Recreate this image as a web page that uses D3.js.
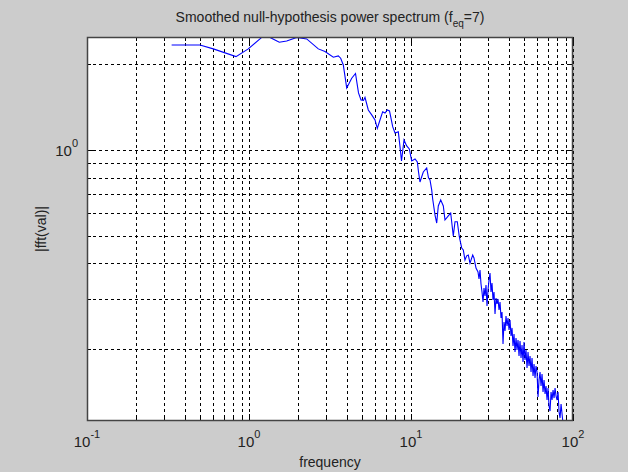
<!DOCTYPE html>
<html>
<head>
<meta charset="utf-8">
<script src="https://cdn.jsdelivr.net/npm/d3@7"></script>
<style>
  body { margin: 0; background: #cccccc; }
  text { font-family: Arial, "Liberation Sans", sans-serif; fill: #222; }
</style>
</head>
<body>
<svg id="chart" width="628" height="472"></svg>
<script>
// spectrum
var freq = [0.333,0.498,0.602,0.831,0.990,1.198,1.348,1.538,1.709,1.970,2.271,2.678,2.945,3.315,3.558,3.681,3.820,
  4.010,4.305,4.544,4.742,4.914,5.092,5.200,5.450,5.720,5.995,6.194,6.435,6.687,6.911,7.141,7.368,7.709,7.966,8.349,
  8.553,8.738,9.054,9.408,9.761,10.10,10.59,10.94,11.13,11.36,11.91,12.50,12.82,13.10,13.42,13.61,14.07,14.41,14.74,
  15.25,15.83,16.21,16.99,17.58,18.24,18.69,19.31,19.87,20.56,21.03,21.54,22.07,22.58,23.13,24.04,24.48,25.19,
  25.92,26.29,26.67,27.05,27.44,27.83,28.23,28.63,29.04,29.46,29.88,30.31,30.74,31.18,31.63,32.08,32.54,33.01,33.48,
  33.96,34.45,34.94,35.44,35.95,36.46,36.98,37.51,38.05,38.59,39.15,39.71,40.28,40.85,41.44,42.03,42.63,43.24,43.86,
  44.49,45.13,45.77,46.43,47.09,47.77,48.45,49.15,49.85,50.56,51.29,52.02,52.77,53.52,54.29,55.07,55.86,56.66,57.47,
  58.29,59.13,59.98,60.84,61.71,62.59,63.49,64.40,65.32,66.26,67.21,68.17,69.15,70.14,71.14,72.16,73.20,74.25,75.31,
  76.39,77.48,78.59,79.72,80.86,82.02,83.19,84.39,85.60,86.82];
var power = [2.335,2.335,2.262,2.125,2.262,2.481,2.481,2.387,2.412,2.481,2.452,2.262,2.213,2.115,2.137,2.098,1.987,
  1.650,1.785,1.855,1.585,1.498,1.492,1.529,1.381,1.327,1.274,1.191,1.274,1.362,1.348,1.381,1.370,1.207,1.147,1.159,
  1.027,0.915,1.084,1.033,1.008,0.915,0.930,0.908,0.837,0.772,0.837,0.865,0.798,0.785,0.724,0.673,0.591,0.554,0.636,
  0.668,0.636,0.568,0.587,0.601,0.499,0.560,0.560,0.496,0.453,0.446,0.411,0.425,0.428,0.401,0.428,0.418,0.385,
  0.3732,0.3527,0.3793,0.3388,0.3176,0.2929,0.3280,0.3075,0.3360,0.2836,0.3227,0.3499,0.3702,0.3176,0.3415,0.2976,0.3176,0.2659,0.3025,
  0.2882,0.3001,0.2746,0.2929,0.2574,0.2702,0.2086,0.2492,0.2318,0.2616,0.2413,0.2574,0.2337,0.2533,0.2226,0.2375,0.2052,0.2262,0.1955,
  0.2190,0.1987,0.2154,0.1893,0.2137,0.1863,0.2069,0.1804,0.2120,0.1833,0.1987,0.1718,0.1955,0.1746,0.1893,0.1664,0.1863,0.1611,0.1775,
  0.1585,0.1746,0.1664,0.1359,0.1560,0.1664,0.1485,0.1637,0.1415,0.1560,0.1393,0.1485,0.1327,0.1462,0.1264,0.1214,0.1415,0.1327,0.1438,
  0.1348,0.1462,0.1370,0.1327,0.1415,0.1204,0.1147,0.1284,0.1185,0.1093];

var xMajor = [0.1, 1, 10, 100];
var xMajorExp = ['-1', '0', '1', '2'];
var yMajor = [1];
var yMajorExp = ['0'];
var xDomain = [0.1, 100];
var yDomain = [0.112, 2.49];

var plotL = 87, plotR = 573, plotT = 37, plotB = 421;

var svg = d3.select('#chart');

var x = d3.scaleLog().domain(xDomain).range([plotL, plotR]);
var y = d3.scaleLog().domain(yDomain).range([plotB, plotT]);

// axes background
svg.append('rect')
  .attr('x', plotL).attr('y', plotT)
  .attr('width', plotR - plotL).attr('height', plotB - plotT)
  .style('fill', '#fff');

var px = function(v) { return Math.round(x(v)) + 0.5; };
var py = function(v) { return Math.round(y(v)) + 0.5; };

// dotted grid
var grid = svg.append('g').style('stroke', '#000').style('stroke-width', 1).style('stroke-dasharray', '3,3');
grid.selectAll('.gx').data(x.ticks()).enter().append('line')
  .attr('x1', px).attr('x2', px).attr('y1', plotT).attr('y2', plotB);
grid.selectAll('.gy').data(y.ticks()).enter().append('line')
  .attr('y1', py).attr('y2', py).attr('x1', plotL).attr('x2', plotR);

// ticks, pointing inwards on all four sides
var ticks = svg.append('g').style('stroke', '#000').style('stroke-width', 1);
x.ticks().forEach(function(v) {
  var len = xMajor.indexOf(v) >= 0 ? 7 : 4;
  ticks.append('line').attr('x1', px(v)).attr('x2', px(v)).attr('y1', plotB).attr('y2', plotB - len);
  ticks.append('line').attr('x1', px(v)).attr('x2', px(v)).attr('y1', plotT).attr('y2', plotT + len);
});
y.ticks().forEach(function(v) {
  var len = yMajor.indexOf(v) >= 0 ? 7 : 4;
  ticks.append('line').attr('y1', py(v)).attr('y2', py(v)).attr('x1', plotL).attr('x2', plotL + len);
  ticks.append('line').attr('y1', py(v)).attr('y2', py(v)).attr('x1', plotR).attr('x2', plotR - len);
});

// the spectrum
svg.append('clipPath').attr('id', 'clip').append('rect')
  .attr('x', plotL).attr('y', plotT).attr('width', plotR - plotL).attr('height', plotB - plotT);

var line = d3.line()
  .x(function(d, i) { return x(freq[i]); })
  .y(function(d) { return y(d); });

svg.append('path')
  .datum(power)
  .attr('clip-path', 'url(#clip)')
  .attr('d', line)
  .style('fill', 'none')
  .style('stroke', '#0000ff')
  .style('stroke-width', 1.1);

// box
svg.append('rect')
  .attr('x', plotL + 0.5).attr('y', plotT + 0.5)
  .attr('width', plotR - plotL - 1).attr('height', plotB - plotT - 1)
  .style('fill', 'none').style('stroke', '#444').style('stroke-width', 1.5);

// tick labels
xMajor.forEach(function(v, i) {
  var t = svg.append('text').attr('x', x(v)).attr('y', 447)
    .attr('text-anchor', 'middle').style('font-size', '15px');
  t.append('tspan').text('10');
  t.append('tspan').attr('dy', -9).style('font-size', '11px').text(xMajorExp[i]);
});
yMajor.forEach(function(v, i) {
  var t = svg.append('text').attr('x', 78).attr('y', y(v) + 6)
    .attr('text-anchor', 'end').style('font-size', '15px');
  t.append('tspan').text('10');
  t.append('tspan').attr('dy', -9).style('font-size', '11px').text(yMajorExp[i]);
});

// title and labels
var title = svg.append('text').attr('x', (plotL + plotR) / 2).attr('y', 22)
  .attr('text-anchor', 'middle').style('font-size', '14px');
title.append('tspan').text('Smoothed null-hypothesis power spectrum (f');
title.append('tspan').attr('dy', 5).style('font-size', '10px').text('eq');
title.append('tspan').attr('dy', -5).text('=7)');

svg.append('text').attr('x', (plotL + plotR) / 2).attr('y', 467)
  .attr('text-anchor', 'middle').style('font-size', '14px').text('frequency');

svg.append('text')
  .attr('transform', 'translate(46,' + ((plotT + plotB) / 2) + ') rotate(-90)')
  .attr('text-anchor', 'middle').style('font-size', '14px').text('|fft(val)|');
</script>
</body>
</html>
